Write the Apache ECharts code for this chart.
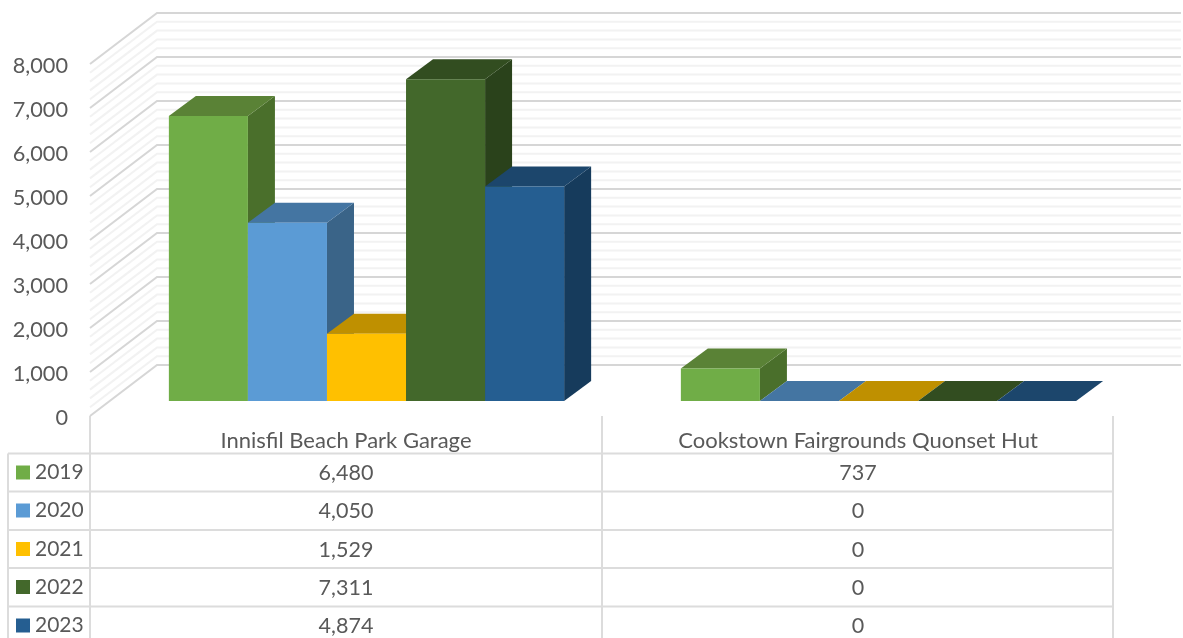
<!DOCTYPE html>
<html>
<head>
<meta charset="utf-8">
<style>
  html, body { margin: 0; padding: 0; background: #fff; overflow: hidden; }
  #main { width: 1183px; height: 638px; }
</style>
<script src="https://cdn.jsdelivr.net/npm/echarts@6/dist/echarts.min.js"></script>
</head>
<body>
<div id="main"></div>
<script>
const categories = ['Innisfil Beach Park Garage', 'Cookstown Fairgrounds Quonset Hut'];
const years = ['2019', '2020', '2021', '2022', '2023'];
const values2019 = [6480, 737];
const values2020 = [4050, 0];
const values2021 = [1529, 0];
const values2022 = [7311, 0];
const values2023 = [4874, 0];
const yearValues = [values2019, values2020, values2021, values2022, values2023];
const yTicks = [0, 200, 400, 600, 800, 1000, 1200, 1400, 1600, 1800, 2000, 2200, 2400, 2600, 2800,
  3000, 3200, 3400, 3600, 3800, 4000, 4200, 4400, 4600, 4800, 5000, 5200, 5400, 5600, 5800,
  6000, 6200, 6400, 6600, 6800, 7000, 7200, 7400, 7600, 7800, 8000];

const frontColors = ['#70AD47', '#5B9BD5', '#FFC000', '#43682B', '#255E91'];
const topColors = ['#5A8236', '#4475A2', '#BF9000', '#324D20', '#1C466C'];
const sideColors = ['#4A6F2B', '#3A6488', '#A67C00', '#2A421B', '#163B5C'];

// fake 3d: pixel offset of the back wall from the axis plane
const wallDx = 67, wallDy = -51;
const barDx = 20.5, barDy = -15, depthDx = 27, depthDy = -20;
const barShare = 0.1544;
const fontName = 'Lato';
const textColor = '#595959';
const rowTop = [453.5, 491.5, 530, 568, 606.5];
const rowHeight = 38;
const lineColor = '#DCDCDC';

function renderWall(params, api) {
  const tick = api.value(0);
  const y = api.coord([0, tick])[1];
  const x0 = params.coordSys.x;
  const major = tick % 1000 === 0;
  return {
    type: 'polyline',
    shape: { points: [[x0, y], [x0 + wallDx, y + wallDy], [x0 + wallDx + params.coordSys.width, y + wallDy]] },
    style: { fill: null, stroke: major ? '#D6D6D6' : '#F2F2F2', lineWidth: 2 }
  };
}

function renderBar(params, api) {
  const s = params.seriesIndex - 1;
  const w = api.size([1, 0])[0] * barShare;
  const base = api.coord([api.value(0), 0]);
  const top = api.coord([api.value(0), api.value(1)]);
  const x1 = base[0] - 2.5 * w + s * w + barDx;
  const x2 = x1 + w;
  const yb = base[1] + barDy;
  const yt = top[1] + barDy;
  return {
    type: 'group',
    children: [
      { type: 'polygon', shape: { points: [[x2, yt], [x2 + depthDx, yt + depthDy], [x2 + depthDx, yb + depthDy], [x2, yb]] }, style: { fill: sideColors[s] } },
      { type: 'polygon', shape: { points: [[x1, yt], [x2, yt], [x2 + depthDx, yt + depthDy], [x1 + depthDx, yt + depthDy]] }, style: { fill: topColors[s] } },
      { type: 'polygon', shape: { points: [[x1, yt], [x2, yt], [x2, yb], [x1, yb]] }, style: { fill: frontColors[s] } }
    ]
  };
}

function renderTableRow(params, api) {
  const i = params.dataIndex;
  const left = 8, right = 1113;
  const cy = rowTop[i] + rowHeight / 2 + 1;
  const children = [
    { type: 'line', shape: { x1: left, y1: rowTop[i], x2: right, y2: rowTop[i] }, style: { stroke: lineColor, lineWidth: 2 } },
    { type: 'rect', shape: { x: 16, y: cy - 8, width: 14, height: 14 }, style: { fill: frontColors[i] } },
    { type: 'text', style: { x: 35, y: cy - 1, text: years[i], fill: textColor, font: '21px ' + fontName, verticalAlign: 'middle' } }
  ];
  categories.forEach(function (c, k) {
    children.push({
      type: 'text',
      style: {
        x: api.coord([k, 0])[0], y: cy,
        text: yearValues[i][k].toLocaleString('en-US'),
        fill: textColor, font: '21.5px ' + fontName, align: 'center', verticalAlign: 'middle'
      }
    });
  });
  return { type: 'group', children: children };
}

const myChart = echarts.init(document.getElementById('main'));

const mySeries = [{
  type: 'custom', name: 'wall', silent: true, clip: false,
  data: yTicks.map(function (t) { return [t]; }),
  encode: { y: 0 },
  renderItem: renderWall
}];
years.forEach(function (y, s) {
  mySeries.push({
    type: 'custom', name: y, clip: false,
    data: categories.map(function (c, k) { return [k, yearValues[s][k]]; }),
    encode: { x: 0, y: 1 },
    renderItem: renderBar
  });
});
mySeries.push({
  type: 'custom', name: 'table', silent: true, clip: false,
  data: years.map(function (y, i) { return [i]; }),
  encode: { tooltip: 0 },
  renderItem: renderTableRow
});

myChart.setOption({
  animation: false,
  backgroundColor: '#fff',
  // second grid only carries the y labels, they sit 2px under the wall lines
  grid: [
    { left: 90, top: 64, width: 1024, height: 352 },
    { left: 90, top: 66, width: 1024, height: 352 }
  ],
  xAxis: [
    {
      type: 'category',
      data: categories,
      axisLine: { show: false },
      axisTick: { show: false },
      axisLabel: { color: textColor, fontFamily: fontName, fontSize: 22, margin: 14 }
    },
    { type: 'category', gridIndex: 1, data: categories, show: false }
  ],
  yAxis: [
    { type: 'value', min: 0, max: 8000, interval: 1000, show: false },
    {
      type: 'value',
      gridIndex: 1,
      min: 0,
      max: 8000,
      interval: 1000,
      axisLine: { show: false },
      axisTick: { show: false },
      splitLine: { show: false },
      axisLabel: {
        color: textColor, fontFamily: fontName, fontSize: 21.7, margin: 22,
        formatter: function (v) { return v.toLocaleString('en-US'); }
      }
    }
  ],
  graphic: [90, 602, 1113].map(function (x) {
    return { type: 'line', silent: true, shape: { x1: x, y1: 416, x2: x, y2: 638 }, style: { stroke: lineColor, lineWidth: 2 } };
  }).concat([
    { type: 'line', silent: true, shape: { x1: 8, y1: 453.5, x2: 8, y2: 638 }, style: { stroke: lineColor, lineWidth: 2 } }
  ]),
  series: mySeries
});
</script>
</body>
</html>
